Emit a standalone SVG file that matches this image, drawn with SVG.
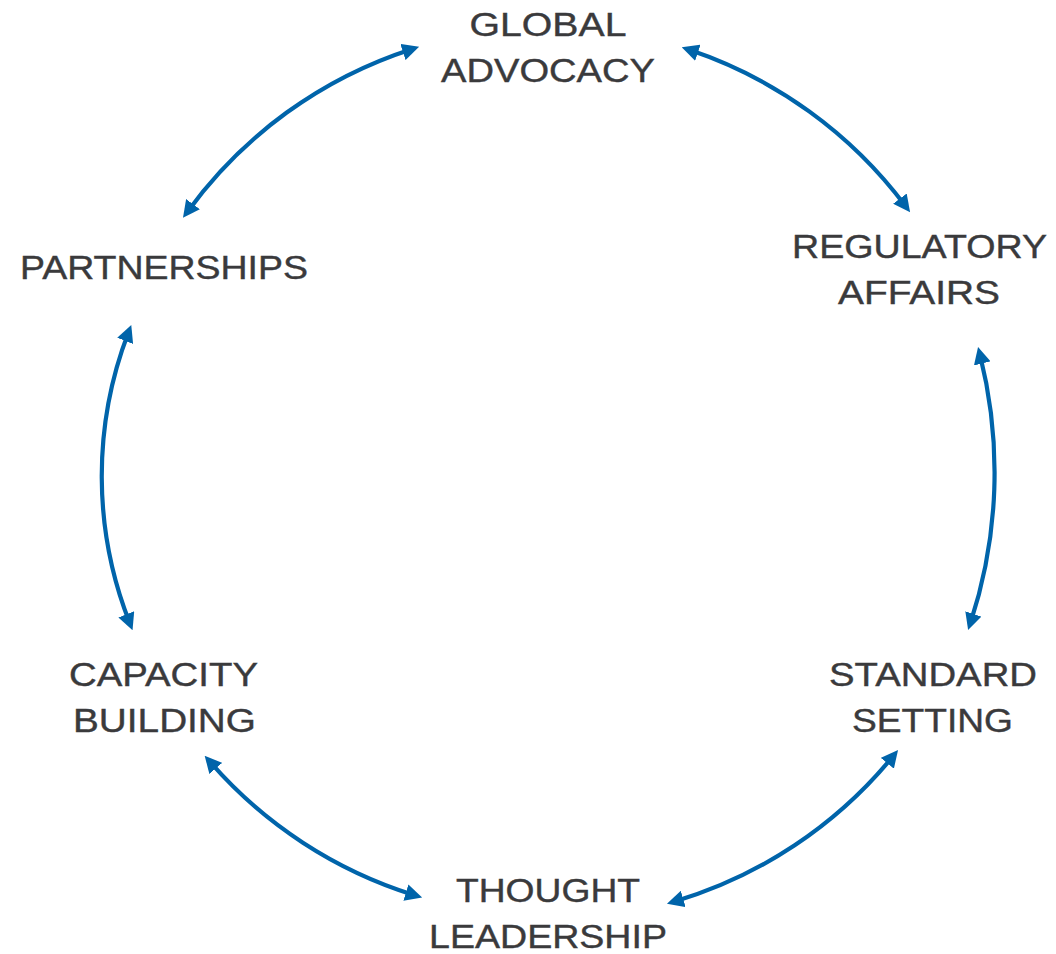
<svg xmlns="http://www.w3.org/2000/svg" width="1056" height="954" viewBox="0 0 1056 954">
<style>
.lbl{font-family:"Liberation Sans","Open Sans",Arial,sans-serif;font-size:33px;fill:#3a3a3c;text-anchor:middle;stroke:#3a3a3c;stroke-width:0.4}
.arc{fill:none;stroke:#0064AA;stroke-width:4.2;marker-start:url(#ah);marker-end:url(#ah)}
</style>
<defs>
<marker id="ah" viewBox="0 0 17 17" refX="9" refY="8.5" markerWidth="17" markerHeight="17" markerUnits="userSpaceOnUse" orient="auto-start-reverse">
<path d="M0,0 L17,8.5 L0,17 z" fill="#0064AA"/>
</marker>
</defs>
<rect width="1056" height="954" fill="#ffffff"/>
<g id="connectors">
<path class="arc" d="M187.7,211.4 A447,447 0 0,1 411.5,49.2"/>
<path class="arc" d="M689.3,49.8 A448,448 0 0,1 905.3,205.8"/>
<path class="arc" d="M980,354.7 A482,482 0 0,1 970.6,622.5"/>
<path class="arc" d="M893,756.3 A447,447 0 0,1 674.6,901.5"/>
<path class="arc" d="M209.9,761.7 A447,447 0 0,0 414.5,895.2"/>
<path class="arc" d="M128.4,332.5 A400,400 0 0,0 129.6,622.7"/>
</g>
<g id="global-advocacy">
<text class="lbl" x="548" y="36" textLength="157" lengthAdjust="spacingAndGlyphs">GLOBAL</text>
<text class="lbl" x="548" y="82" textLength="214" lengthAdjust="spacingAndGlyphs">ADVOCACY</text>
</g>
<g id="regulatory-affairs">
<text class="lbl" x="919.5" y="258" textLength="255" lengthAdjust="spacingAndGlyphs">REGULATORY</text>
<text class="lbl" x="919" y="304" textLength="162" lengthAdjust="spacingAndGlyphs">AFFAIRS</text>
</g>
<g id="standard-setting">
<text class="lbl" x="933" y="686" textLength="208" lengthAdjust="spacingAndGlyphs">STANDARD</text>
<text class="lbl" x="932.5" y="732" textLength="161" lengthAdjust="spacingAndGlyphs">SETTING</text>
</g>
<g id="thought-leadership">
<text class="lbl" x="548" y="902" textLength="184" lengthAdjust="spacingAndGlyphs">THOUGHT</text>
<text class="lbl" x="548" y="948" textLength="238" lengthAdjust="spacingAndGlyphs">LEADERSHIP</text>
</g>
<g id="capacity-building">
<text class="lbl" x="163.5" y="686" textLength="189" lengthAdjust="spacingAndGlyphs">CAPACITY</text>
<text class="lbl" x="164.5" y="732" textLength="183" lengthAdjust="spacingAndGlyphs">BUILDING</text>
</g>
<g id="partnerships">
<text class="lbl" x="164" y="279" textLength="288" lengthAdjust="spacingAndGlyphs">PARTNERSHIPS</text>
</g>
</svg>
